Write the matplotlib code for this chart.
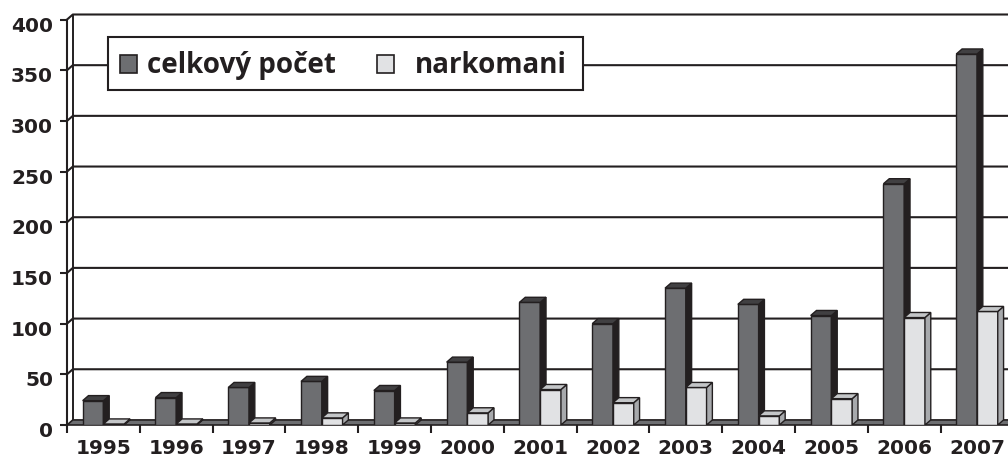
import numpy as np
import matplotlib
matplotlib.use("Agg")
import matplotlib.pyplot as plt
from matplotlib.patches import Polygon, Rectangle
from matplotlib.transforms import ScaledTranslation

years = ['1995', '1996', '1997', '1998', '1999', '2000', '2001',
         '2002', '2003', '2004', '2005', '2006', '2007']
celkovy_pocet = [24, 27, 37, 43, 34, 62, 121, 100, 135, 119, 108, 238, 366]
narkomani = [1, 1, 2, 7, 2, 12, 35, 22, 37, 9, 26, 106, 112]
y_ticks = [0, 50, 100, 150, 200, 250, 300, 350, 400]
legend_labels = ['celkový počet', 'narkomani']

W, H = 1008, 461
EDGE = '#231f20'
DARK = ('#6d6e71', '#231f20', '#414042')    # front, side, top
LIGHT = ('#e1e2e4', '#a7a9ac', '#c4c6c8')
DX, DY = 0.08, 5.0      # depth offset (categories, value units)
BW = 0.285

plt.rcParams['font.family'] = 'DejaVu Sans'
plt.rcParams['font.weight'] = 'bold'

fig = plt.figure(figsize=(W / 100, H / 100), dpi=100)
ax = fig.add_axes([67 / W, 36 / H, 946.4 / W, 410.5 / H])
n = len(years)
ax.set_xlim(0, n)
ax.set_ylim(0, 405)

# back wall with gridlines
for v in y_ticks[1:]:
    ax.plot([0, DX, n + DX], [v, v + DY, v + DY], color=EDGE, lw=1.5,
            zorder=1, clip_on=False)
ax.plot([DX, DX], [DY, y_ticks[-1] + DY], color=EDGE, lw=1.4, zorder=1, clip_on=False)

# floor
ax.add_patch(Polygon([(0, 0), (n, 0), (n + DX, DY), (DX, DY)], closed=True,
                     fc='#6d6e71', ec=EDGE, lw=1.2, zorder=1.5, clip_on=False))


def draw_bars(x_left, vals, colors, z):
    front, side, top = colors
    bars = ax.bar(x_left, vals, width=BW, align='edge', color=front,
                  edgecolor=EDGE, linewidth=1.0, zorder=z)
    for b in bars:
        x0 = b.get_x()
        x1 = x0 + b.get_width()
        h = b.get_height()
        ax.add_patch(Polygon([(x1, 0), (x1 + DX, DY), (x1 + DX, h + DY), (x1, h)],
                             closed=True, fc=side, ec=EDGE, lw=1.0, zorder=z))
        ax.add_patch(Polygon([(x0, h), (x1, h), (x1 + DX, h + DY), (x0 + DX, h + DY)],
                             closed=True, fc=top, ec=EDGE, lw=1.0, zorder=z))


idx = np.arange(n)
draw_bars(idx + 0.5 - BW, celkovy_pocet, DARK, 2)
draw_bars(idx + 0.5, narkomani, LIGHT, 3)

# axes, ticks
for s in ['top', 'right']:
    ax.spines[s].set_visible(False)
ax.spines['left'].set_bounds(0, 400)
ax.spines['left'].set_linewidth(1.5)
ax.spines['left'].set_color(EDGE)
ax.spines['bottom'].set_visible(False)

ax.set_yticks(y_ticks)
ax.tick_params(axis='y', length=5, width=1.5, color=EDGE, pad=5,
               labelsize=14.5, labelcolor=EDGE)
for lab in ax.get_yticklabels():
    lab.set_transform(lab.get_transform() + ScaledTranslation(0, -4.5 / 100, fig.dpi_scale_trans))

ax.set_xticks(np.arange(n + 1))
ax.set_xticklabels([])
ax.set_xticks(idx + 0.5, minor=True)
ax.set_xticklabels(years, minor=True)
ax.tick_params(axis='x', which='major', length=6, width=1.5, color=EDGE)
ax.tick_params(axis='x', which='minor', length=0, pad=10, labelsize=14.5,
               labelcolor=EDGE)


# legend box drawn by hand
def fpx(x, y):
    return x / W, 1 - y / H


x0, y0 = fpx(108, 90)
fig.add_artist(Rectangle((x0, y0), (583 - 108) / W, (90 - 36.7) / H,
                         transform=fig.transFigure, fc='white', ec=EDGE,
                         lw=1.5, zorder=5))
for sx, tx, col, lab in [(120, 146.7, DARK[0], legend_labels[0]),
                         (377, 415, LIGHT[0], legend_labels[1])]:
    bx, by = fpx(sx, 73.3)
    fig.add_artist(Rectangle((bx, by), 17 / W, 18 / H, transform=fig.transFigure,
                             fc=col, ec=EDGE, lw=1.2, zorder=6))
    tx_, ty_ = fpx(tx, 73.3)
    fig.text(tx_, ty_, lab, family='Open Sans', weight='bold', fontsize=20,
             color=EDGE, ha='left', va='baseline', zorder=7)

fig.savefig('out.png', dpi=100, facecolor='white')
